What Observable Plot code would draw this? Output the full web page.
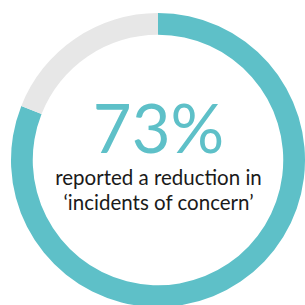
<!DOCTYPE html>
<html>
<head>
<meta charset="utf-8">
<script src="https://cdn.jsdelivr.net/npm/d3@7"></script>
<script src="https://cdn.jsdelivr.net/npm/@observablehq/plot@0.6"></script>
<style>
  html, body { margin: 0; padding: 0; background: #fff; }
  #chart { width: 305px; height: 305px; overflow: hidden; }
</style>
</head>
<body>
<div id="chart"></div>
<script>
// Ring segments (clockwise from 12 o'clock)
const segments = ["reported a reduction", "other"];
const shares = [81, 19];
const segmentColors = ["#5ec0c8", "#e7e7e7"];

// Text
const headline = "73%";
const captionLines = ["reported a reduction in", "\u2018incidents of concern\u2019"];

const ringData = segments.map((s, i) => ({segment: s, share: shares[i], color: segmentColors[i]}));
const centre = [{x: 0, y: 0}];

function ringMark(index, scales, values, dimensions) {
  const cx = scales.x(0), cy = scales.y(0);
  const outer = scales.x(1) - scales.x(0);
  const inner = outer * 0.852;
  const pie = d3.pie().sort(null).value(d => d.share)(ringData);
  const arc = d3.arc().innerRadius(inner).outerRadius(outer);
  const g = d3.create("svg:g").attr("transform", `translate(${cx},${cy})`);
  g.selectAll("path").data(pie).join("path")
    .attr("d", arc)
    .attr("fill", d => d.data.color);
  return g.node();
}

const chart = Plot.plot({
  width: 305,
  height: 305,
  margin: 0,
  x: {domain: [-1, 1], range: [11, 305], axis: null},
  y: {domain: [-1, 1], range: [307, 13], axis: null},
  marks: [
    ringMark,
    Plot.text(centre, {
      x: "x", y: "y", text: () => headline,
      fontFamily: "Lato", fontWeight: 400, fontSize: 67,
      fill: "#5ec0c8", textAnchor: "middle", lineAnchor: "bottom", dy: -8
    }),
    Plot.text(centre, {
      x: "x", y: "y", text: () => captionLines[0],
      fontFamily: "Lato", fontSize: 20.5,
      fill: "#1a1a1a", textAnchor: "middle", lineAnchor: "bottom", dy: 24.5
    }),
    Plot.text(centre, {
      x: "x", y: "y", text: () => captionLines[1],
      fontFamily: "Lato", fontSize: 20.5,
      fill: "#1a1a1a", textAnchor: "middle", lineAnchor: "bottom", dy: 49
    })
  ]
});
document.getElementById("chart").appendChild(chart);
</script>
</body>
</html>
